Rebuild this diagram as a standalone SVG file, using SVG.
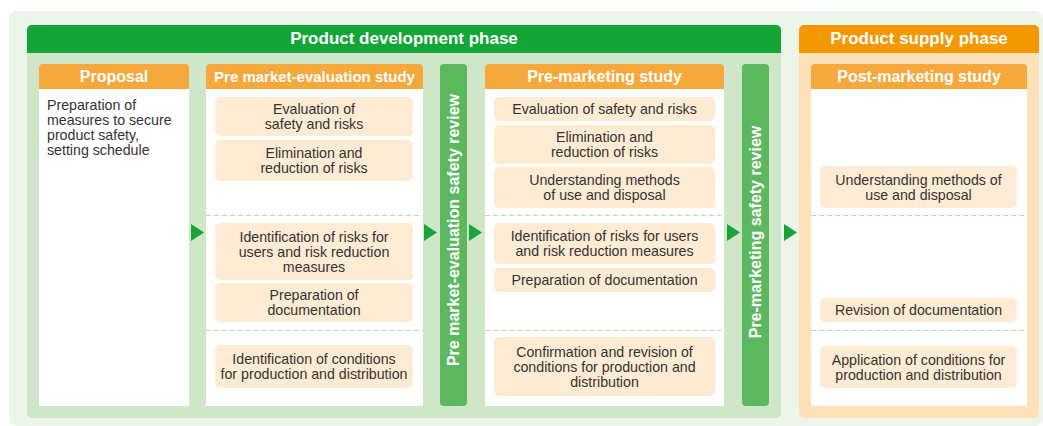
<svg xmlns="http://www.w3.org/2000/svg" width="1043" height="426" viewBox="0 0 1043 426">
<style>
text{font-family:"Liberation Sans",Arial,Helvetica,sans-serif}
.hd{font-size:17px;font-weight:bold;fill:#fff;text-anchor:middle}
.ch{font-size:16px;font-weight:bold;fill:#fff;text-anchor:middle}
.vt{font-size:16px;font-weight:bold;fill:#fff;text-anchor:middle}
.bt{font-size:14.2px;fill:#333;text-anchor:middle}
.lt{font-size:14.2px;fill:#333}
.box{fill:#fdebd3}
.col{fill:#fff}
.colh{fill:#f5a83b}
.dash{stroke:#b8dcb1;stroke-width:1.2;stroke-dasharray:5 3;fill:none}
.arr{fill:#17a43b}
.bar{fill:#5cb85f}
</style>
<rect x="9" y="11" width="1034" height="415" rx="8" fill="#edf5eb"/>

<g id="dev-phase">
<rect x="27" y="25" width="754" height="393" rx="5" fill="#cfe6c8"/>
<path d="M27 53 V30 a5 5 0 0 1 5 -5 H776 a5 5 0 0 1 5 5 V53 Z" fill="#13a538"/>
<text class="hd" x="404" y="44">Product development phase</text>
</g>

<g id="supply-phase">
<rect x="799" y="25" width="240" height="393" rx="5" fill="#fde1b9"/>
<path d="M799 53 V30 a5 5 0 0 1 5 -5 H1034 a5 5 0 0 1 5 5 V53 Z" fill="#f39800"/>
<text class="hd" x="919" y="44">Product supply phase</text>
</g>

<g id="proposal">
<rect class="col" x="39" y="89" width="150" height="317"/>
<path class="colh" d="M39 89 V68 a4 4 0 0 1 4 -4 H185 a4 4 0 0 1 4 4 V89 Z"/>
<text class="ch" x="114" y="82">Proposal</text>
<text class="lt" x="47" y="110">Preparation of</text>
<text class="lt" x="47" y="125">measures to secure</text>
<text class="lt" x="47" y="140">product safety,</text>
<text class="lt" x="47" y="155">setting schedule</text>
</g>

<g id="pre-market-evaluation-study">
<rect class="col" x="206" y="89" width="217" height="317"/>
<path class="colh" d="M206 89 V68 a4 4 0 0 1 4 -4 H419 a4 4 0 0 1 4 4 V89 Z"/>
<text class="ch" x="314.5" y="82" style="font-size:15px">Pre market-evaluation study</text>
<line class="dash" x1="206" y1="215.5" x2="423" y2="215.5"/>
<line class="dash" x1="206" y1="330.5" x2="423" y2="330.5"/>
<rect class="box" x="215" y="97" width="198" height="39" rx="5"/>
<text class="bt" x="314" y="114">Evaluation of</text>
<text class="bt" x="314" y="129">safety and risks</text>
<rect class="box" x="215" y="140" width="198" height="41" rx="5"/>
<text class="bt" x="314" y="158">Elimination and</text>
<text class="bt" x="314" y="173">reduction of risks</text>
<rect class="box" x="215" y="223" width="198" height="57" rx="5"/>
<text class="bt" x="314" y="241.5">Identification of risks for</text>
<text class="bt" x="314" y="256.5">users and risk reduction</text>
<text class="bt" x="314" y="271.5">measures</text>
<rect class="box" x="215" y="283" width="198" height="39" rx="5"/>
<text class="bt" x="314" y="300">Preparation of</text>
<text class="bt" x="314" y="315">documentation</text>
<rect class="box" x="215" y="345" width="198" height="43" rx="5"/>
<text class="bt" x="314" y="364">Identification of conditions</text>
<text class="bt" x="314" y="379">for production and distribution</text>
</g>

<g id="pre-market-evaluation-safety-review">
<rect class="bar" x="440" y="64" width="27" height="342" rx="4"/>
<text class="vt" x="453.5" y="235.7" transform="rotate(-90 453.5 230)">Pre market-evaluation safety review</text>
</g>

<g id="pre-marketing-study">
<rect class="col" x="485" y="89" width="239" height="317"/>
<path class="colh" d="M485 89 V68 a4 4 0 0 1 4 -4 H720 a4 4 0 0 1 4 4 V89 Z"/>
<text class="ch" x="604.5" y="82">Pre-marketing study</text>
<line class="dash" x1="485" y1="215.5" x2="724" y2="215.5"/>
<line class="dash" x1="485" y1="330.5" x2="724" y2="330.5"/>
<rect class="box" x="494" y="97" width="221" height="24" rx="5"/>
<text class="bt" x="604.5" y="114">Evaluation of safety and risks</text>
<rect class="box" x="494" y="125" width="221" height="39" rx="5"/>
<text class="bt" x="604.5" y="142">Elimination and</text>
<text class="bt" x="604.5" y="157">reduction of risks</text>
<rect class="box" x="494" y="167" width="221" height="41" rx="5"/>
<text class="bt" x="604.5" y="185">Understanding methods</text>
<text class="bt" x="604.5" y="200">of use and disposal</text>
<rect class="box" x="494" y="223" width="221" height="41" rx="5"/>
<text class="bt" x="604.5" y="241">Identification of risks for users</text>
<text class="bt" x="604.5" y="256">and risk reduction measures</text>
<rect class="box" x="494" y="268" width="221" height="24" rx="5"/>
<text class="bt" x="604.5" y="285">Preparation of documentation</text>
<rect class="box" x="494" y="337" width="221" height="59" rx="5"/>
<text class="bt" x="604.5" y="356.5">Confirmation and revision of</text>
<text class="bt" x="604.5" y="371.5">conditions for production and</text>
<text class="bt" x="604.5" y="386.5">distribution</text>
</g>

<g id="pre-marketing-safety-review">
<rect class="bar" x="742" y="64" width="27" height="342" rx="4"/>
<text class="vt" x="755.5" y="237.7" transform="rotate(-90 755.5 232)">Pre-marketing safety review</text>
</g>

<g id="post-marketing-study">
<rect class="col" x="811" y="89" width="216" height="317"/>
<path class="colh" d="M811 89 V68 a4 4 0 0 1 4 -4 H1023 a4 4 0 0 1 4 4 V89 Z"/>
<text class="ch" x="919" y="82">Post-marketing study</text>
<line class="dash" x1="811" y1="215.5" x2="1027" y2="215.5"/>
<line class="dash" x1="811" y1="330.5" x2="1027" y2="330.5"/>
<rect class="box" x="820" y="166" width="197" height="42" rx="5"/>
<text class="bt" x="918.5" y="185">Understanding methods of</text>
<text class="bt" x="918.5" y="200">use and disposal</text>
<rect class="box" x="820" y="298" width="197" height="24" rx="5"/>
<text class="bt" x="918.5" y="315">Revision of documentation</text>
<rect class="box" x="820" y="346" width="197" height="42" rx="5"/>
<text class="bt" x="918.5" y="364.5">Application of conditions for</text>
<text class="bt" x="918.5" y="379.5">production and distribution</text>
</g>

<g id="connectors">
<polygon class="arr" points="191,224 204,232.5 191,241"/>
<polygon class="arr" points="424,224 437,232.5 424,241"/>
<polygon class="arr" points="469,224 482,232.5 469,241"/>
<polygon class="arr" points="727,224 740,232.5 727,241"/>
<polygon class="arr" points="784,224 797,232.5 784,241"/>
</g>
</svg>
